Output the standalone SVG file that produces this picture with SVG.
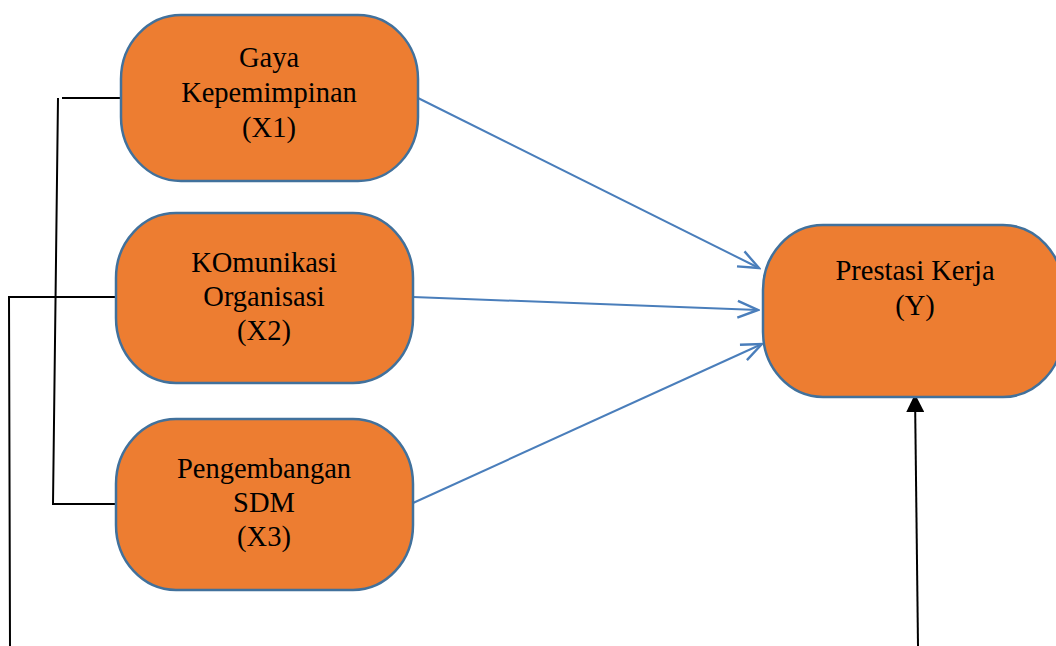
<svg xmlns="http://www.w3.org/2000/svg" width="1056" height="646" viewBox="0 0 1056 646">
<style>
.box{fill:#ED7D31;stroke:#41719C;stroke-width:2.5}
.lbl{font-family:"Liberation Serif","Times New Roman",serif;font-size:28.5px;fill:#000;text-anchor:middle}
.blue{stroke:#4A7EBB;stroke-width:2;fill:none}
.blk{stroke:#000;stroke-width:2;fill:none}
</style>
<defs>
<marker id="open" markerUnits="userSpaceOnUse" markerWidth="24" markerHeight="24" refX="18" refY="10" orient="auto" viewBox="0 0 20 20">
<path d="M1,3 L18,10 L1,17" fill="none" stroke="#4A7EBB" stroke-width="2"/>
</marker>
<marker id="solid" markerUnits="userSpaceOnUse" markerWidth="18" markerHeight="18" refX="16" refY="8" orient="auto" viewBox="0 0 16 16">
<path d="M0,0 L16,8 L0,16 Z" fill="#000"/>
</marker>
</defs>
<g id="connectors">
<line class="blue" x1="418" y1="98" x2="759" y2="268" marker-end="url(#open)"/>
<line class="blue" x1="413" y1="297" x2="758" y2="310" marker-end="url(#open)"/>
<line class="blue" x1="413" y1="503" x2="762" y2="344" marker-end="url(#open)"/>
<line class="blk" x1="62" y1="98" x2="121" y2="98"/>
<polyline class="blk" points="58,98 53,504 116,504"/>
<polyline class="blk" points="116,297 9,297 10,646"/>
<line class="blk" x1="918" y1="646" x2="915" y2="394" marker-end="url(#solid)"/>
</g>
<g id="x1">
<rect class="box" x="121" y="15" width="297" height="166" rx="60" ry="64"/>
<text class="lbl" x="269" y="67">Gaya</text>
<text class="lbl" x="269" y="102">Kepemimpinan</text>
<text class="lbl" x="269" y="137">(X1)</text>
</g>
<g id="x2">
<rect class="box" x="116" y="213" width="297" height="170" rx="60" ry="65"/>
<text class="lbl" x="264" y="272">KOmunikasi</text>
<text class="lbl" x="264" y="306">Organisasi</text>
<text class="lbl" x="264" y="340">(X2)</text>
</g>
<g id="x3">
<rect class="box" x="116" y="419" width="297" height="171" rx="60" ry="65"/>
<text class="lbl" x="264" y="478">Pengembangan</text>
<text class="lbl" x="264" y="512">SDM</text>
<text class="lbl" x="264" y="546">(X3)</text>
</g>
<g id="y">
<rect class="box" x="763" y="225" width="300" height="172" rx="60" ry="65"/>
<text class="lbl" x="915" y="280">Prestasi Kerja</text>
<text class="lbl" x="915" y="315">(Y)</text>
</g>
</svg>
